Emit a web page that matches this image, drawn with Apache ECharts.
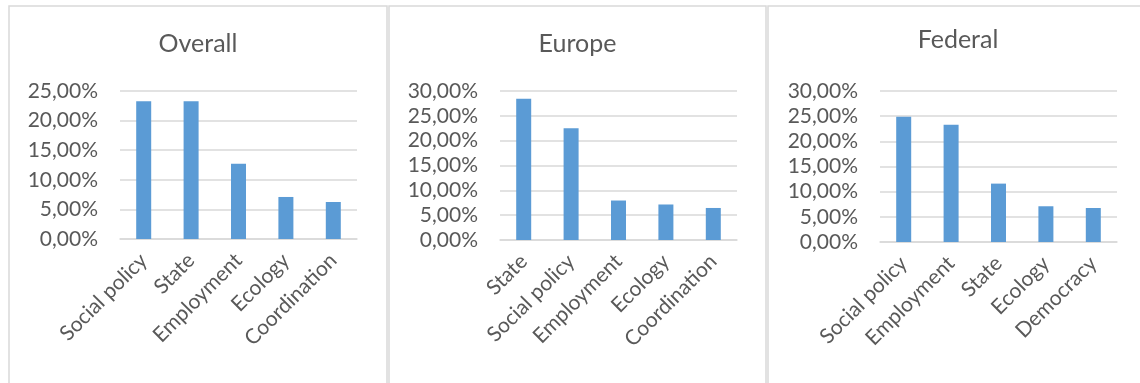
<!DOCTYPE html>
<html>
<head>
<meta charset="utf-8">
<script src="https://cdn.jsdelivr.net/npm/echarts@6/dist/echarts.min.js"></script>
<style>
  html, body { margin: 0; padding: 0; background: #fff; }
</style>
</head>
<body>
<div id="main" style="width: 1140px; height: 383px;"></div>
<script type="text/javascript">
// data, in percent
var titles = ['Overall', 'Europe', 'Federal'];
var overallCats = ['Social policy', 'State', 'Employment', 'Ecology', 'Coordination'];
var overallVals = [23.25, 23.25, 12.7, 7.1, 6.25];
var europeCats = ['State', 'Social policy', 'Employment', 'Ecology', 'Coordination'];
var europeVals = [28.45, 22.5, 7.95, 7.15, 6.45];
var federalCats = ['Social policy', 'Employment', 'State', 'Ecology', 'Democracy'];
var federalVals = [24.9, 23.3, 11.6, 7.1, 6.75];
var yMax = [25, 30, 30];

var cats = [overallCats, europeCats, federalCats];
var vals = [overallVals, europeVals, federalVals];

var font = 'Lato, "Open Sans", sans-serif';
var textColor = '#595959';
var gridColor = '#d9d9d9';

// panel layout
var panels = [
  { x: 9, w: 378, gridLeft: 120, gridTop: 91, gridH: 148, titleTop: 26 },
  { x: 389, w: 377, gridLeft: 500, gridTop: 91, gridH: 149, titleTop: 26 },
  { x: 768, w: 380, gridLeft: 880, gridTop: 91, gridH: 151, titleTop: 22 }
];

var myChart = echarts.init(document.getElementById('main'));

var title = [], grid = [], xAxis = [], yAxis = [], series = [], graphic = [];
for (var i = 0; i < 3; i++) {
  var p = panels[i];
  graphic.push({
    type: 'rect',
    shape: { x: p.x, y: 6, width: p.w, height: 400 },
    style: { fill: 'none', stroke: gridColor, lineWidth: 1.5 },
    silent: true
  });
  title.push({
    text: titles[i],
    left: p.x + p.w / 2 - 5,
    top: p.titleTop,
    textAlign: 'center',
    textStyle: { fontFamily: font, fontSize: 25, fontWeight: 'normal', color: textColor }
  });
  grid.push({ left: p.gridLeft, top: p.gridTop, width: 237, height: p.gridH });
  xAxis.push({
    type: 'category',
    gridIndex: i,
    data: cats[i],
    axisTick: { show: false },
    axisLine: { lineStyle: { color: gridColor, width: 1.5 } },
    axisLabel: {
      rotate: 45,
      interval: 0,
      margin: 18,
      fontFamily: font,
      fontSize: 21,
      color: textColor
    }
  });
  yAxis.push({
    type: 'value',
    gridIndex: i,
    min: 0,
    max: yMax[i],
    interval: 5,
    axisLine: { show: false },
    axisTick: { show: false },
    splitLine: { lineStyle: { color: gridColor, width: 1.5 } },
    axisLabel: {
      margin: 22,
      fontFamily: font,
      fontSize: 21,
      color: textColor,
      formatter: function (v) { return v.toFixed(2).replace('.', ',') + '%'; }
    }
  });
  series.push({
    type: 'bar',
    xAxisIndex: i,
    yAxisIndex: i,
    data: vals[i],
    barWidth: 15,
    itemStyle: { color: '#5b9bd5' }
  });
}

var option = {
  animation: false,
  title: title,
  grid: grid,
  xAxis: xAxis,
  yAxis: yAxis,
  series: series,
  graphic: graphic
};

myChart.setOption(option);
</script>
</body>
</html>
